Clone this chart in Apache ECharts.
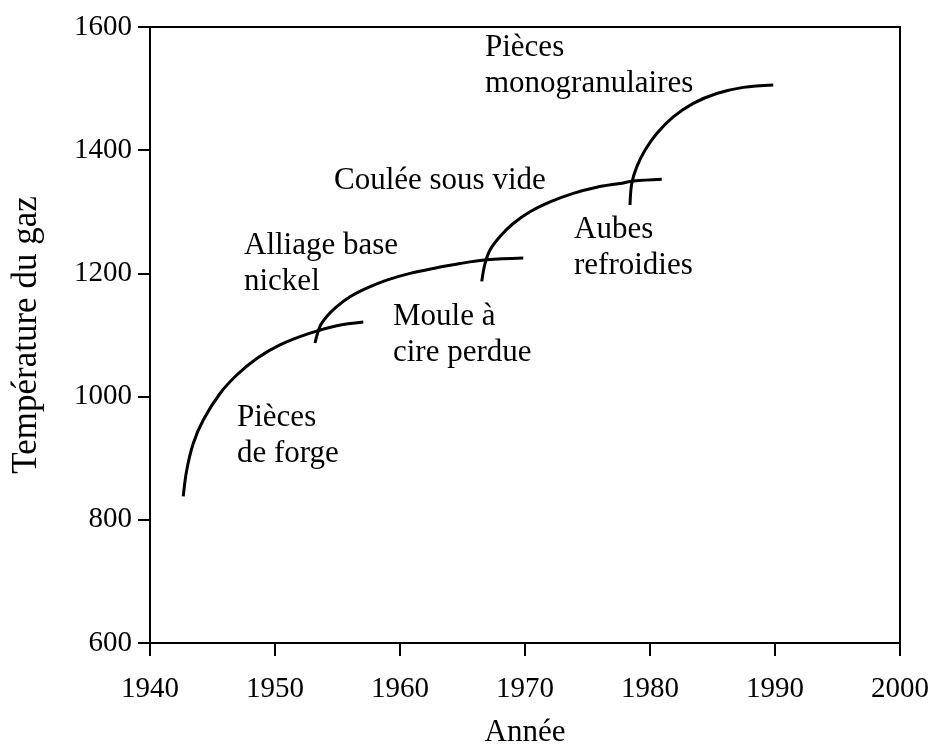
<!DOCTYPE html>
<html>
<head>
<meta charset="utf-8">
<script src="https://cdn.jsdelivr.net/npm/echarts@6/dist/echarts.min.js"></script>
<style>
  html, body { margin: 0; padding: 0; background: #fff; }
  #main { width: 934px; height: 745px; }
</style>
</head>
<body>
<div id="main"></div>
<script>
// points: [année, température]
var forge = [[1942.66, 838], [1942.94, 881], [1943.46, 924], [1944.26, 962], [1945.6, 1005], [1946.94, 1035],
  [1948.54, 1062], [1950.4, 1084], [1952.8, 1103], [1954.94, 1115], [1957.06, 1121]];
var nickel = [[1953.2, 1087], [1953.6, 1114], [1954.14, 1130], [1954.94, 1146], [1956.0, 1162], [1957.34, 1176],
  [1958.94, 1189], [1960.8, 1200], [1962.66, 1208], [1964.8, 1216], [1966.94, 1222], [1969.86, 1225]];
var vide = [[1966.54, 1187], [1966.8, 1216], [1967.2, 1238], [1968.0, 1260], [1969.06, 1281], [1970.4, 1300],
  [1972.0, 1316], [1973.86, 1330], [1975.74, 1340], [1977.6, 1346], [1978.66, 1350], [1980.94, 1353]];
var mono = [[1978.4, 1311], [1978.54, 1346], [1978.94, 1373], [1979.6, 1400], [1980.54, 1427], [1981.86, 1454],
  [1983.46, 1476], [1985.34, 1492], [1987.46, 1502], [1989.86, 1506]];

// annotations: [année, température, texte]
var notes = [
  [1946.96, 936, 'Pièces\nde forge'],
  [1947.52, 1215, 'Alliage base\nnickel'],
  [1959.44, 1100, 'Moule à\ncire perdue'],
  [1954.72, 1350, 'Coulée sous vide'],
  [1973.92, 1241, 'Aubes\nrefroidies'],
  [1966.8, 1537, 'Pièces\nmonogranulaires']
];

var font = 'Liberation Serif, Times New Roman, serif';

function curve(data) {
  return {
    type: 'line',
    data: data,
    smooth: 0.35,
    symbol: 'none',
    lineStyle: { color: '#000', width: 3 },
    silent: true
  };
}

var chart = echarts.init(document.getElementById('main'));
chart.setOption({
  animation: false,
  backgroundColor: '#fff',
  grid: {
    left: 150, right: 34, top: 27, bottom: 102,
    outerBoundsMode: 'none', containLabel: false,
    show: true, borderColor: '#000', borderWidth: 2
  },
  xAxis: {
    type: 'value',
    min: 1940, max: 2000, interval: 10,
    name: 'Année', nameLocation: 'middle', nameGap: 74,
    nameTextStyle: { color: '#000', fontFamily: font, fontSize: 31 },
    axisLine: { lineStyle: { color: '#000', width: 2 } },
    axisTick: { length: 13, lineStyle: { color: '#000', width: 2 } },
    axisLabel: { color: '#000', fontFamily: font, fontSize: 29, margin: 32, formatter: function (v) { return String(v); } },
    splitLine: { show: false }
  },
  yAxis: {
    type: 'value',
    min: 600, max: 1600, interval: 200,
    name: 'Température du gaz', nameLocation: 'middle', nameGap: 106,
    nameTextStyle: { color: '#000', fontFamily: font, fontSize: 35 },
    axisLine: { lineStyle: { color: '#000', width: 2 } },
    axisTick: { length: 12, lineStyle: { color: '#000', width: 2 } },
    axisLabel: { color: '#000', fontFamily: font, fontSize: 29, margin: 18, formatter: function (v) { return String(v); } },
    splitLine: { show: false }
  },
  series: [
    curve(forge),
    curve(nickel),
    curve(vide),
    curve(mono),
    {
      type: 'scatter',
      symbolSize: 0,
      silent: true,
      itemStyle: { opacity: 1 },
      data: notes.map(function (n) { return { value: [n[0], n[1]], name: n[2] }; }),
      label: {
        show: true,
        position: 'right',
        distance: 0,
        formatter: function (p) { return p.name; },
        color: '#000',
        opacity: 1,
        fontFamily: font,
        fontSize: 31,
        lineHeight: 36,
        align: 'left'
      }
    }
  ]
});
</script>
</body>
</html>
